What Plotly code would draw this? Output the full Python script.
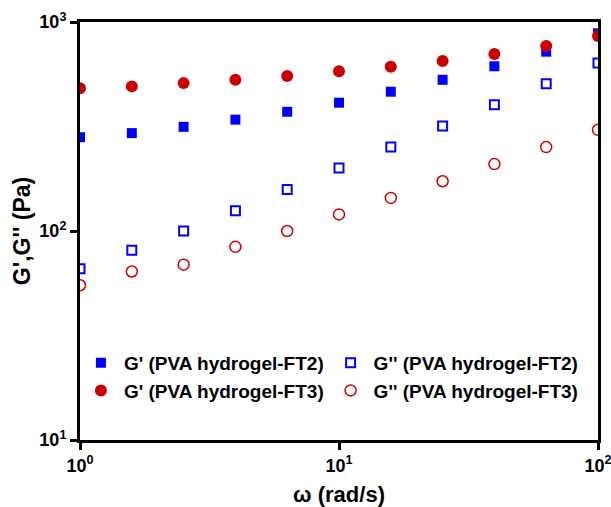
import plotly.graph_objects as go

omega = [1.0, 1.585, 2.512, 3.981, 6.310, 10.0, 15.85, 25.12, 39.81, 63.10, 100.0]
g1_ft2 = [281, 294, 315, 341, 372, 411, 464, 529, 614, 721, 883]
g2_ft2 = [66, 81, 100, 125, 158, 200, 252, 318, 402, 507, 637]
g1_ft3 = [482, 492, 510, 529, 552, 581, 611, 650, 703, 767, 857]
g2_ft3 = [55, 64, 69, 84, 100, 120, 144, 173, 209, 252, 305]

tick_vals_x = [1, 10, 100]
tick_text_x = ["10<sup>0</sup>", "10<sup>1</sup>", "10<sup>2</sup>"]
tick_vals_y = [10, 100, 1000]
tick_text_y = ["10<sup>1</sup>", "10<sup>2</sup>", "10<sup>3</sup>"]

BLUE = "#0000FF"
RED = "#CC0000"
FONT = "Liberation Sans"

fig = go.Figure()
fig.add_trace(go.Scatter(x=omega, y=g1_ft2, mode="markers", name="G' (PVA hydrogel-FT2)",
                         marker=dict(symbol="square", size=10, color=BLUE, line=dict(width=0)),
                         legend="legend"))
fig.add_trace(go.Scatter(x=omega, y=g2_ft2, mode="markers", name="G'' (PVA hydrogel-FT2)",
                         marker=dict(symbol="square-open", size=9, color=BLUE, line=dict(width=2)),
                         legend="legend2"))
fig.add_trace(go.Scatter(x=omega, y=g1_ft3, mode="markers", name="G' (PVA hydrogel-FT3)",
                         marker=dict(symbol="circle", size=12, color=RED, line=dict(width=0)),
                         legend="legend"))
fig.add_trace(go.Scatter(x=omega, y=g2_ft3, mode="markers", name="G'' (PVA hydrogel-FT3)",
                         marker=dict(symbol="circle-open", size=11, color=RED, line=dict(width=1.5)),
                         legend="legend2"))

axis_common = dict(
    type="log", showgrid=False, zeroline=False, showline=True, linecolor="black",
    linewidth=3, mirror=True, ticks="outside", ticklen=7, tickwidth=3, tickcolor="black",
    tickfont=dict(family=FONT, size=18, color="black", weight="bold"),
    automargin=False, ticklabeloverflow="allow",
)

fig.update_xaxes(**axis_common, range=[0, 2], tickvals=tick_vals_x, ticktext=tick_text_x,
                 title=dict(text="ω (rad/s)", font=dict(family=FONT, size=22, color="black", weight="bold"),
                            standoff=14))
fig.update_yaxes(**axis_common, range=[1, 3], tickvals=tick_vals_y, ticktext=tick_text_y,
                 title=dict(text="G',G'' (Pa)", font=dict(family=FONT, size=23, color="black", weight="bold"),
                            standoff=3))

legend_common = dict(
    font=dict(family=FONT, size=19, color="black", weight="bold"),
    bgcolor="rgba(0,0,0,0)", borderwidth=0, xanchor="left", yanchor="top",
    itemclick=False, itemdoubleclick=False, tracegroupgap=0, itemwidth=36,
)

fig.update_layout(
    width=611, height=507,
    margin=dict(l=80, r=13, t=22, b=67),
    paper_bgcolor="white", plot_bgcolor="white",
    legend=dict(x=-0.004, y=0.23, **legend_common),
    legend2=dict(x=0.478, y=0.23, **legend_common),
)

fig.write_html("out.html")
